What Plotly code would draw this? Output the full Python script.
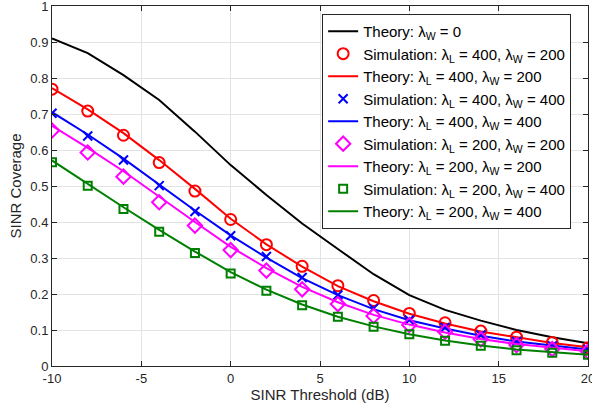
import plotly.graph_objects as go

x = [-10, -8, -6, -4, -2, 0, 2, 4, 6, 8, 10, 12, 14, 16, 18, 20]

theory_w0 = [0.910, 0.869, 0.808, 0.739, 0.651, 0.558, 0.475, 0.396, 0.325, 0.255, 0.197, 0.156, 0.126, 0.100, 0.080, 0.063]

sim_400_200 = [0.769, 0.708, 0.641, 0.565, 0.486, 0.407, 0.337, 0.277, 0.223, 0.182, 0.146, 0.120, 0.097, 0.080, 0.065, 0.051]
th_400_200 = [0.772, 0.713, 0.647, 0.572, 0.492, 0.409, 0.338, 0.276, 0.222, 0.180, 0.145, 0.118, 0.096, 0.079, 0.064, 0.052]

sim_400_400 = [0.702, 0.639, 0.572, 0.501, 0.429, 0.362, 0.304, 0.246, 0.197, 0.160, 0.128, 0.107, 0.086, 0.068, 0.056, 0.046]
th_400_400 = [0.705, 0.643, 0.576, 0.504, 0.432, 0.363, 0.301, 0.244, 0.197, 0.158, 0.127, 0.104, 0.084, 0.068, 0.056, 0.046]

sim_200_200 = [0.654, 0.593, 0.526, 0.455, 0.390, 0.322, 0.265, 0.213, 0.172, 0.139, 0.114, 0.095, 0.074, 0.058, 0.047, 0.040]
th_200_200 = [0.667, 0.606, 0.541, 0.470, 0.400, 0.331, 0.272, 0.220, 0.177, 0.142, 0.115, 0.093, 0.075, 0.061, 0.050, 0.041]

sim_200_400 = [0.566, 0.501, 0.436, 0.373, 0.314, 0.257, 0.209, 0.169, 0.137, 0.109, 0.088, 0.070, 0.056, 0.044, 0.037, 0.031]
th_200_400 = [0.571, 0.505, 0.441, 0.378, 0.318, 0.261, 0.212, 0.171, 0.137, 0.110, 0.088, 0.071, 0.057, 0.046, 0.038, 0.031]

x_ticks = [-10, -5, 0, 5, 10, 15, 20]
y_ticks = [0, 0.1, 0.2, 0.3, 0.4, 0.5, 0.6, 0.7, 0.8, 0.9, 1]
y_tick_text = ["0", "0.1", "0.2", "0.3", "0.4", "0.5", "0.6", "0.7", "0.8", "0.9", "1"]

L = "\u03bb"

fig = go.Figure()

fig.add_trace(go.Scatter(x=x, y=theory_w0, mode="lines", line=dict(color="black", width=2),
                         name=f"Theory: {L}<sub>W</sub> = 0"))

series = [
    ("red", "circle-open", 11, sim_400_200, th_400_200, "400", "200"),
    ("blue", "x-thin-open", 9, sim_400_400, th_400_400, "400", "400"),
    ("#ff00ff", "diamond-open", 11, sim_200_200, th_200_200, "200", "200"),
    ("#008000", "square-open", 8, sim_200_400, th_200_400, "200", "400"),
]

for color, sym, size, sim, th, lL, lW in series:
    fig.add_trace(go.Scatter(
        x=x, y=sim, mode="markers",
        marker=dict(symbol=sym, size=size, color=color, line=dict(color=color, width=2)),
        name=f"Simulation: {L}<sub>L</sub> = {lL}, {L}<sub>W</sub> = {lW}"))
    fig.add_trace(go.Scatter(
        x=x, y=th, mode="lines", line=dict(color=color, width=2),
        name=f"Theory: {L}<sub>L</sub> = {lL}, {L}<sub>W</sub> = {lW}"))

axis_common = dict(
    showgrid=True, gridcolor="#e3e3e3", gridwidth=1,
    showline=True, linecolor="#262626", linewidth=1, mirror="allticks",
    ticks="inside", ticklen=5, tickcolor="#262626",
    tickfont=dict(size=13, color="#262626"),
    ticklabeloverflow="allow",
    automargin=False,
    zeroline=False,
)

fig.update_xaxes(range=[-10, 20], tickvals=x_ticks, ticktext=[str(v) for v in x_ticks],
                 title=dict(text="SINR Threshold (dB)", font=dict(size=15, color="#262626"), standoff=2),
                 **axis_common)
fig.update_yaxes(range=[0, 1], tickvals=y_ticks, ticktext=y_tick_text,
                 title=dict(text="SINR Coverage", font=dict(size=15, color="#262626"), standoff=5),
                 **axis_common)

fig.update_layout(
    width=592, height=404,
    margin=dict(l=52, r=4, t=6, b=38, autoexpand=False),
    paper_bgcolor="white", plot_bgcolor="white",
    font=dict(family="Liberation Sans, Arial, sans-serif", color="black"),
    legend=dict(x=0.504, y=0.978, xanchor="left", yanchor="top",
                bgcolor="white", bordercolor="#262626", borderwidth=1,
                font=dict(size=15, color="black"),
                tracegroupgap=0, itemwidth=30),
    showlegend=True,
)

fig.write_html("out.html")
